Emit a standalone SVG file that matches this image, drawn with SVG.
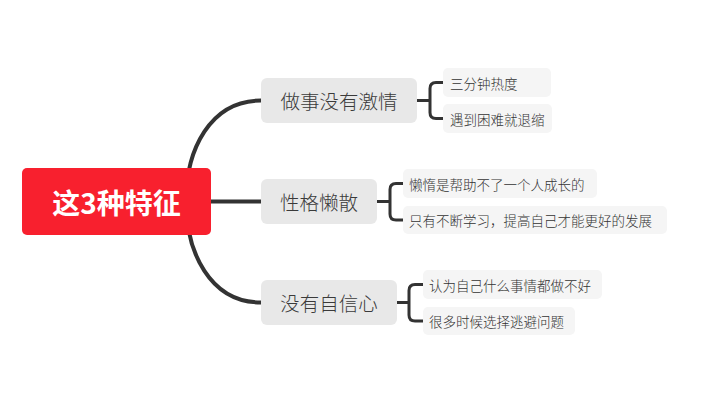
<svg xmlns="http://www.w3.org/2000/svg" width="704" height="401" viewBox="0 0 704 401">
<style>
.root{fill:#F8202E}
.rt{fill:#fff;font-family:"Noto Sans CJK SC","Noto Sans",sans-serif;font-weight:bold;font-size:28px;text-anchor:middle;dominant-baseline:central}
.br{fill:#E8E8E8}
.bt{fill:#3a3a3a;font-family:"Noto Sans CJK SC","Noto Sans",sans-serif;font-weight:300;font-size:19.5px;text-anchor:middle;dominant-baseline:central}
.sb{fill:#F5F5F5}
.st{fill:#333;font-family:"Noto Sans CJK SC","Noto Sans",sans-serif;font-weight:300;font-size:13.5px;dominant-baseline:central}
.ln{fill:none;stroke:#333;stroke-width:4;stroke-linecap:round}
.bk{fill:none;stroke:#333;stroke-width:3}
</style>
<rect width="704" height="401" fill="#fff"/>
<g id="connectors">
<path class="ln" d="M186,201 C186,150 210,100.5 261,100.5"/>
<path class="ln" d="M211,201.5 H261"/>
<path class="ln" d="M186,201 C186,252 210,302.5 261,302.5"/>
<path class="bk" d="M417,100.5 H430 M443,82.5 H436 Q430,82.5 430,88.5 V112.5 Q430,118.5 436,118.5 H443"/>
<path class="bk" d="M377,201.5 H390 M403,183.5 H396 Q390,183.5 390,189.5 V214 Q390,220 396,220 H403"/>
<path class="bk" d="M397,302.5 H409 M423,284.5 H415 Q409,284.5 409,290.5 V315 Q409,321 415,321 H423"/>
</g>
<g id="root">
<rect class="root" x="22" y="168" width="189" height="67" rx="5"/>
<text class="rt" x="116.5" y="201.5">这3种特征</text>
</g>
<g id="b1">
<rect class="br" x="261" y="78" width="156" height="45" rx="6"/>
<text class="bt" x="339" y="100.5">做事没有激情</text>
</g>
<g id="b2">
<rect class="br" x="261" y="179" width="116" height="45" rx="6"/>
<text class="bt" x="319" y="201.5">性格懒散</text>
</g>
<g id="b3">
<rect class="br" x="261" y="280" width="136" height="45" rx="6"/>
<text class="bt" x="329" y="302.5">没有自信心</text>
</g>
<g id="s1a">
<rect class="sb" x="443" y="68" width="108" height="29" rx="5"/>
<text class="st" x="450" y="82.5">三分钟热度</text>
</g>
<g id="s1b">
<rect class="sb" x="443" y="104" width="109" height="29" rx="5"/>
<text class="st" x="450" y="118.5">遇到困难就退缩</text>
</g>
<g id="s2a">
<rect class="sb" x="403" y="169" width="194" height="29" rx="5"/>
<text class="st" x="409" y="183.5">懒惰是帮助不了一个人成长的</text>
</g>
<g id="s2b">
<rect class="sb" x="403" y="206" width="264" height="28" rx="5"/>
<text class="st" x="409" y="220">只有不断学习，提高自己才能更好的发展</text>
</g>
<g id="s3a">
<rect class="sb" x="423" y="270" width="179" height="29" rx="5"/>
<text class="st" x="429" y="284.5">认为自己什么事情都做不好</text>
</g>
<g id="s3b">
<rect class="sb" x="423" y="307" width="152" height="28" rx="5"/>
<text class="st" x="429" y="321">很多时候选择逃避问题</text>
</g>
</svg>
